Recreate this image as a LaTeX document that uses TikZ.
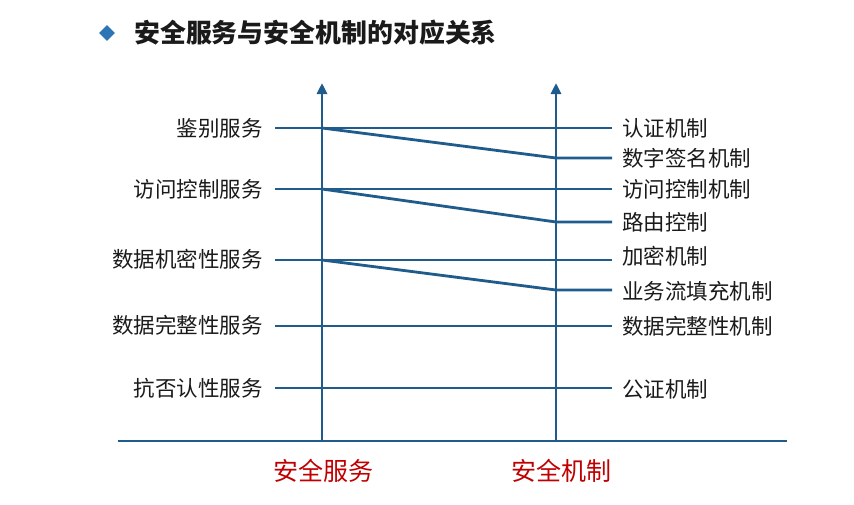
\documentclass[tikz,border=0pt]{standalone}
\usepackage{fontspec}
\newfontfamily\cjk{Noto Sans CJK SC}
\usetikzlibrary{arrows.meta}
\definecolor{lineblue}{HTML}{1F5C8B}
\definecolor{diamblue}{HTML}{2E75B6}
\definecolor{labred}{HTML}{C00000}
\definecolor{txt}{HTML}{1A1A1A}
\begin{document}
\begin{tikzpicture}[x=1pt,y=-1pt,
  conn/.style={draw=lineblue,line width=2.8pt},
  axisline/.style={draw=lineblue,line width=2.8pt,-{Triangle[length=11pt,width=10pt]}},
  lab/.style={font=\cjk\fontsize{21.5}{24}\selectfont,text=txt,inner sep=0pt},
  axlab/.style={font=\cjk\fontsize{25}{28}\selectfont,text=labred,inner sep=0pt}]
\useasboundingbox (0,0) rectangle (854,504);
% title
\node[fill=diamblue,shape=rectangle,rotate=45,minimum size=11pt,inner sep=0pt] (dia) at (107,33) {};
\node[anchor=west,inner sep=0pt,font=\cjk\bfseries\fontsize{25.9}{28}\selectfont,text=txt] (title) at (134,33) {安全服务与安全机制的对应关系};
% axes
\coordinate (aL0) at (322,441);
\coordinate (aLt) at (322,83);
\coordinate (aR0) at (556,441);
\coordinate (aRt) at (556,83);
\coordinate (bL) at (118,441);
\coordinate (bR) at (787,441);
\draw[conn] (bL) -- (bR);
\draw[axisline] (aL0) -- (aLt);
\draw[axisline] (aR0) -- (aRt);
\node[axlab] (svc) at (323,471) {安全服务};
\node[axlab] (mech) at (561,471) {安全机制};
% left labels
\node[lab,anchor=east] (l1) at (263,128) {鉴别服务};
\node[lab,anchor=east] (l2) at (263,189) {访问控制服务};
\node[lab,anchor=east] (l3) at (263,259) {数据机密性服务};
\node[lab,anchor=east] (l4) at (263,325) {数据完整性服务};
\node[lab,anchor=east] (l5) at (263,388) {抗否认性服务};
% right labels
\node[lab,anchor=west] (r1) at (622,128) {认证机制};
\node[lab,anchor=west] (r2) at (622,158) {数字签名机制};
\node[lab,anchor=west] (r3) at (622,189) {访问控制机制};
\node[lab,anchor=west] (r4) at (622,222) {路由控制};
\node[lab,anchor=west] (r5) at (622,256) {加密机制};
\node[lab,anchor=west] (r6) at (622,291) {业务流填充机制};
\node[lab,anchor=west] (r7) at (622,326) {数据完整性机制};
\node[lab,anchor=west] (r8) at (622,389) {公证机制};
% connection points
\coordinate (s1) at (322,128); \coordinate (s2) at (322,189); \coordinate (s3) at (322,260);
\coordinate (e1) at (275,128); \coordinate (e2) at (275,189); \coordinate (e3) at (275,260);
\coordinate (e4) at (275,326); \coordinate (e5) at (275,388);
\coordinate (f1) at (612,128); \coordinate (f3) at (612,189); \coordinate (f5) at (612,260);
\coordinate (f7) at (612,326); \coordinate (f8) at (612,388);
\coordinate (m2) at (556,158); \coordinate (m4) at (556,222); \coordinate (m6) at (556,290);
\coordinate (f2) at (612,158); \coordinate (f4) at (612,222); \coordinate (f6) at (612,290);
\draw[conn] (e1) -- (f1);
\draw[conn] (e2) -- (f3);
\draw[conn] (e3) -- (f5);
\draw[conn] (e4) -- (f7);
\draw[conn] (e5) -- (f8);
\draw[conn,line join=round] (s1) -- (m2) -- (f2);
\draw[conn,line join=round] (s2) -- (m4) -- (f4);
\draw[conn,line join=round] (s3) -- (m6) -- (f6);
\end{tikzpicture}
\end{document}
